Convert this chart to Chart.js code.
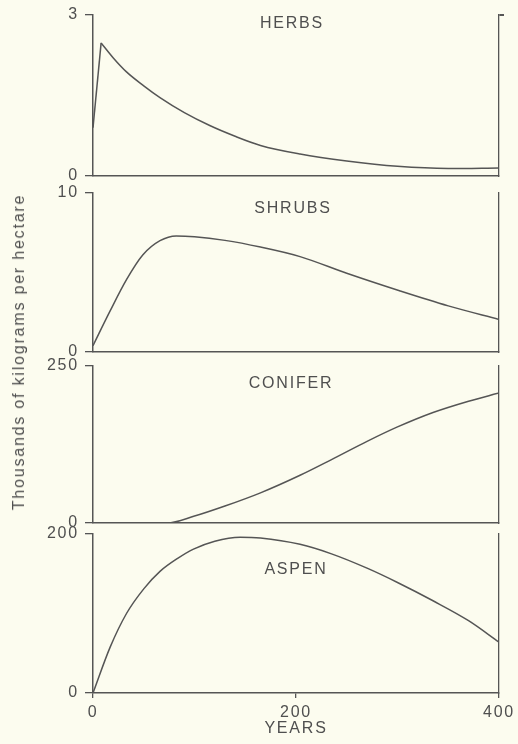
<!DOCTYPE html>
<html><head><meta charset="utf-8">
<script src="https://cdn.jsdelivr.net/npm/chart.js@4.4.1/dist/chart.umd.min.js"></script>
<style>
html,body{margin:0;padding:0;background:#fcfcef;}
body{width:518px;height:744px;position:relative;overflow:hidden;font-family:"Liberation Sans",Arial,sans-serif;color:#4f4f4f;}
canvas.c{position:absolute;left:0;}
.lbl{position:absolute;font-size:16px;line-height:16px;letter-spacing:1.8px;transform:translate(-50%,-50%);white-space:nowrap;}
.ytitle{position:absolute;left:19px;top:352px;font-size:16px;line-height:16px;letter-spacing:1.8px;white-space:nowrap;transform:translate(-50%,-50%) rotate(-90deg);}
</style></head>
<body>
<canvas class="c" id="herbs" width="518" height="193" style="top:-1px"></canvas>
<canvas class="c" id="shrubs" width="518" height="191" style="top:177px"></canvas>
<canvas class="c" id="conifer" width="518" height="189" style="top:350px"></canvas>
<canvas class="c" id="aspen" width="518" height="226" style="top:518px"></canvas>
<div class="lbl" style="left:292px;top:22.5px">HERBS</div>
<div class="lbl" style="left:293px;top:207.5px">SHRUBS</div>
<div class="lbl" style="left:291px;top:382.5px">CONIFER</div>
<div class="lbl" style="left:296px;top:569px">ASPEN</div>
<div class="ytitle">Thousands of kilograms per hectare</div>
<script>
// ---- data (years, thousands of kg per hectare) ----
// herbs: a straight jump from year 0 to the peak, then a smooth decay
const herbsRiseYears  = [0, 8];
const herbsRiseValues = [0.9, 2.48];
const herbsYears   = [8, 20, 33, 50, 66, 90, 115, 140, 165, 204, 250, 300, 350, 400];
const herbsValues  = [2.48, 2.2, 1.94, 1.68, 1.46, 1.18, 0.94, 0.74, 0.57, 0.41, 0.28, 0.18, 0.14, 0.15];
const shrubsYears  = [0, 17, 33, 49, 66, 82, 100, 130, 165, 204, 250, 302, 350, 400];
const shrubsValues = [0.4, 2.6, 4.55, 6.1, 7.0, 7.3, 7.25, 7.02, 6.6, 6.0, 4.95, 3.85, 2.9, 2.05];
const coniferYears  = [0, 73, 100, 130, 165, 204, 235, 270, 300, 335, 370, 400];
const coniferValues = [0, 0, 11, 27, 48, 76, 101, 130, 153, 176, 194, 207];
const aspenYears  = [0, 17, 33, 50, 66, 83, 99, 120, 145, 165, 204, 235, 270, 300, 335, 370, 400];
const aspenValues = [0, 58, 100, 131, 153, 169, 181, 191, 196, 195, 187, 175, 157, 139, 116, 91, 64];
const xTicks = [0, 200, 400];
const yMaxima = {herbs: 3, shrubs: 10, conifer: 250, aspen: 200};
const xTitle = 'YEARS';

const INK = '#555555';
const TXT = '#4f4f4f';
const FONT = {family: '"Liberation Sans", Arial, sans-serif', size: 16};

const spacingPlugin = {id: 'spacing', beforeDraw(chart) { chart.ctx.letterSpacing = '1.8px'; }};

function series(years, values, tension) {
  return {data: years.map((x, i) => ({x: x, y: values[i]})), borderColor: INK, borderWidth: 1.5,
    pointRadius: 0, fill: false, tension: tension,
    cubicInterpolationMode: tension ? 'monotone' : 'default'};
}

function makeChart(id, datasets, yMax, bottom, capRight) {
  return new Chart(document.getElementById(id), {
    type: 'line',
    data: {datasets: datasets},
    options: {
      responsive: false, animation: false,
      layout: {padding: {top: 16, left: 0, right: 0, bottom: 0}},
      plugins: {legend: {display: false}, tooltip: {enabled: false}, title: {display: false}},
      scales: {
        x: {
          type: 'linear', min: 0, max: 400,
          afterBuildTicks: s => { s.ticks = xTicks.map(v => ({value: v})); },
          afterFit: s => { s.height = bottom ? 51 : 16; },
          grid: {drawOnChartArea: false, drawTicks: bottom, tickLength: 5, color: INK, lineWidth: 1.3},
          border: {display: true, color: INK, width: 1.5},
          ticks: {display: bottom, color: TXT, font: FONT, padding: 5, maxRotation: 0},
          title: {display: bottom, text: xTitle, color: TXT, font: FONT, padding: {top: 0, bottom: 6}}
        },
        y: {
          type: 'linear', min: 0, max: yMax, position: 'left',
          afterBuildTicks: s => { s.ticks = [{value: 0}, {value: yMax}]; },
          afterFit: s => { s.width = 93; },
          grid: {drawOnChartArea: false, drawTicks: true, tickLength: 8, color: INK, lineWidth: 1.3},
          border: {display: true, color: INK, width: 1.5},
          ticks: {color: TXT, font: FONT, padding: 6}
        },
        yR: {
          type: 'linear', min: 0, max: 1, position: 'right', display: true,
          afterBuildTicks: s => { s.ticks = capRight ? [{value: 1}] : []; },
          afterFit: s => { s.width = 19; },
          grid: {drawOnChartArea: false, drawTicks: capRight, tickLength: 5, color: INK, lineWidth: 2},
          border: {display: true, color: INK, width: 1.3},
          ticks: {display: false}
        }
      }
    },
    plugins: [spacingPlugin]
  });
}

makeChart('herbs', [series(herbsRiseYears, herbsRiseValues, 0), series(herbsYears, herbsValues, 0.4)], yMaxima.herbs, false, true);
makeChart('shrubs', [series(shrubsYears, shrubsValues, 0.4)], yMaxima.shrubs, false, false);
makeChart('conifer', [series(coniferYears, coniferValues, 0.4)], yMaxima.conifer, false, false);
makeChart('aspen', [series(aspenYears, aspenValues, 0.4)], yMaxima.aspen, true, false);
</script>
</body></html>
